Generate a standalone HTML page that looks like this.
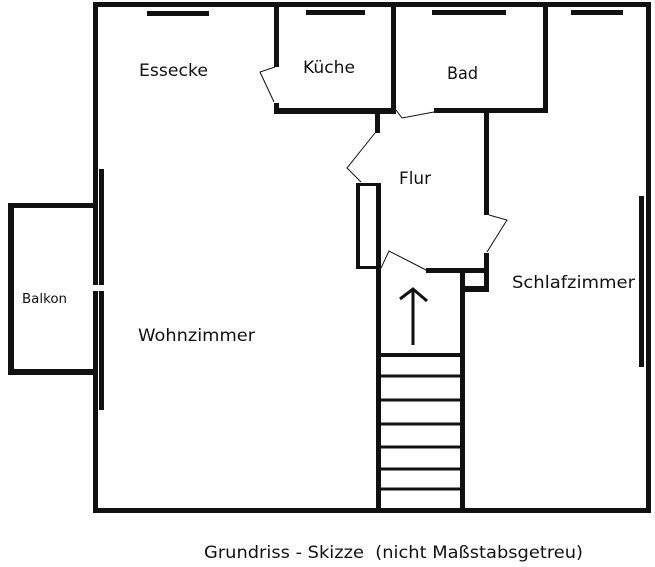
<!DOCTYPE html>
<html>
<head>
<meta charset="utf-8">
<style>
  html, body { margin:0; padding:0; background:#fff; }
  body { width:655px; height:567px; overflow:hidden; }
  svg { display:block; }
  text { font-family: "DejaVu Sans", "Liberation Sans", sans-serif; fill:#111; }
</style>
</head>
<body>
<svg width="655" height="567" viewBox="0 0 655 567" xmlns="http://www.w3.org/2000/svg">
  <rect x="0" y="0" width="655" height="567" fill="#fff"/>
  <g fill="#111">
    <!-- outer walls -->
    <rect x="93" y="2" width="558" height="5"/>
    <rect x="93" y="508" width="558" height="5"/>
    <rect x="93" y="2" width="5" height="283"/>
    <rect x="93" y="291" width="5" height="222"/>
    <rect x="646" y="2" width="5" height="511"/>
    <!-- left window bars -->
    <rect x="99" y="169" width="5" height="116"/>
    <rect x="99" y="291" width="5" height="119"/>
    <!-- right window -->
    <rect x="639" y="196" width="5" height="171"/>
    <!-- balcony -->
    <rect x="8" y="203" width="85" height="5"/>
    <rect x="8" y="203" width="6" height="172"/>
    <rect x="8" y="369" width="85" height="6"/>
    <!-- top windows -->
    <rect x="147" y="11" width="62" height="5"/>
    <rect x="306" y="10" width="59" height="5"/>
    <rect x="432" y="10" width="74" height="5"/>
    <rect x="571" y="10" width="52" height="5"/>
    <!-- Kueche -->
    <rect x="274" y="2" width="5" height="65"/>
    <rect x="274" y="103" width="5" height="11"/>
    <rect x="274" y="108" width="122" height="6"/>
    <rect x="391" y="2" width="5" height="112"/>
    <!-- Bad -->
    <rect x="434" y="108" width="114" height="5"/>
    <rect x="543" y="2" width="5" height="111"/>
    <!-- Flur -->
    <rect x="375" y="113" width="5" height="20"/>
    <rect x="376" y="183" width="5" height="330"/>
    <rect x="484" y="112" width="5" height="103"/>
    <rect x="484" y="253" width="5" height="39"/>
    <rect x="426" y="268" width="63" height="5"/>
    <rect x="460" y="286" width="29" height="6"/>
    <rect x="460" y="268" width="5" height="245"/>
    <!-- closet -->
    <rect x="356" y="183" width="4" height="86"/>
    <rect x="356" y="183" width="24" height="3"/>
    <rect x="356" y="266" width="24" height="3"/>
    <!-- stairs -->
    <rect x="381" y="353" width="79" height="4"/>
    <rect x="381" y="374.5" width="79" height="3"/>
    <rect x="381" y="398.5" width="79" height="3"/>
    <rect x="381" y="422.5" width="79" height="3"/>
    <rect x="381" y="445.5" width="79" height="3"/>
    <rect x="381" y="467.5" width="79" height="3"/>
    <rect x="381" y="487.5" width="79" height="3"/>
  </g>
  <!-- doors -->
  <g fill="none" stroke="#111" stroke-width="1">
    <polyline points="275,67 260,72 274,102"/>
    <polyline points="396,110 402,118 434,112"/>
    <polyline points="375,133 347,168 361,182"/>
    <polyline points="489,215 507,220 487,252"/>
    <polyline points="381,268 389,251 426,270"/>
  </g>
  <!-- arrow -->
  <g fill="none" stroke="#111" stroke-width="3">
    <line x1="413" y1="289" x2="413" y2="345"/>
    <polyline points="400,299 413,289 427,301"/>
  </g>
  <!-- labels -->
  <text x="139" y="76" font-size="17" textLength="69" lengthAdjust="spacingAndGlyphs">Essecke</text>
  <text x="303" y="73" font-size="17" textLength="52" lengthAdjust="spacingAndGlyphs">Küche</text>
  <text x="447" y="79" font-size="17" textLength="31" lengthAdjust="spacingAndGlyphs">Bad</text>
  <text x="399" y="184" font-size="17" textLength="32" lengthAdjust="spacingAndGlyphs">Flur</text>
  <text x="512" y="288" font-size="17" textLength="123" lengthAdjust="spacingAndGlyphs">Schlafzimmer</text>
  <text x="138" y="341" font-size="17" textLength="117" lengthAdjust="spacingAndGlyphs">Wohnzimmer</text>
  <text x="22" y="303" font-size="13" textLength="45" lengthAdjust="spacingAndGlyphs">Balkon</text>
  <text x="204" y="558" font-size="17" textLength="379" lengthAdjust="spacingAndGlyphs" xml:space="preserve">Grundriss - Skizze  (nicht Maßstabsgetreu)</text>
</svg>
</body>
</html>
